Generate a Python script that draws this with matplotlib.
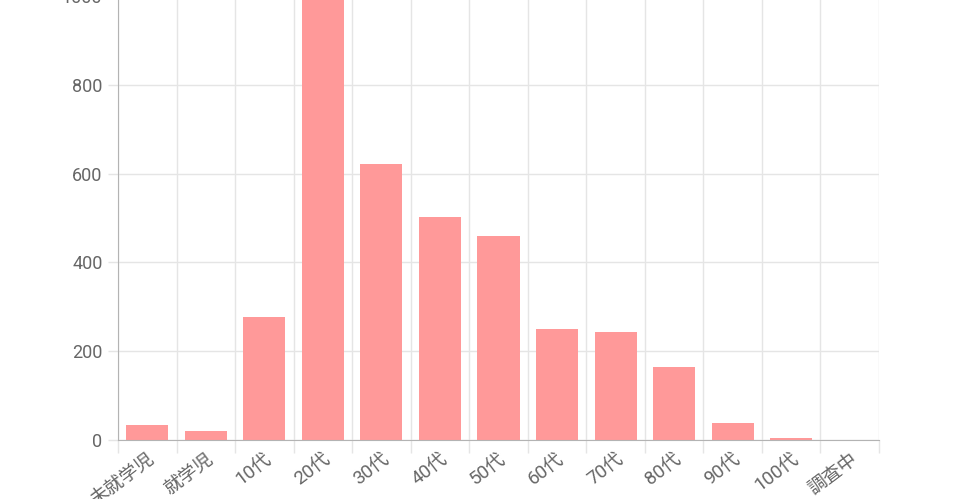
import matplotlib
matplotlib.use("Agg")
import matplotlib.pyplot as plt
from matplotlib.ticker import FixedLocator
import numpy as np

plt.rcParams['font.family'] = ['Roboto', 'Noto Sans CJK JP', 'DejaVu Sans']

categories = ["未就学児", "就学児", "10代", "20代", "30代", "40代", "50代",
              "60代", "70代", "80代", "90代", "100代", "調査中"]
values = [34, 20, 277, 995, 622, 502, 460, 250, 243, 165, 38, 4, 1]
yticks = [0, 200, 400, 600, 800, 1000]

grid_c = '#e5e5e5'
text_c = '#666666'

fig = plt.figure(figsize=(9.6, 4.99), dpi=100)
ax = fig.add_axes([118/960, 59/499, (879-118)/960, (440+4)/499])

x = np.arange(len(categories))
ax.bar(x, values, width=0.72, color='#ff9999', zorder=2)

ax.set_xlim(-0.5, len(categories) - 0.5)
ax.set_ylim(0, 1000)

ax.set_yticks(yticks)
ax.set_yticklabels([str(v) for v in yticks])
ax.set_xticks(x)
ax.set_xticklabels(categories, rotation=37, ha='right', rotation_mode='anchor')
for lbl in ax.get_xticklabels():
    lbl.set_fontsize(13.5)
ax.xaxis.set_minor_locator(FixedLocator(np.arange(len(categories) + 1) - 0.5))

ax.tick_params(axis='x', which='major', length=0, pad=7, labelsize=13.5, labelcolor=text_c)
ax.tick_params(axis='x', which='minor', length=9, color=grid_c, width=1)
ax.tick_params(axis='y', length=7.2, color=grid_c, width=1, pad=4,
               labelsize=13, labelcolor=text_c)

ax.grid(axis='y', which='major', color=grid_c, linewidth=1, zorder=0)
ax.grid(axis='x', which='minor', color=grid_c, linewidth=1, zorder=0)
ax.grid(axis='x', which='major', visible=False)

for s in ['top', 'right']:
    ax.spines[s].set_visible(False)
ax.spines['left'].set_color('#b3b3b3')
ax.spines['bottom'].set_color('#b3b3b3')
ax.set_axisbelow(True)

fig.savefig("out.png", dpi=100)
